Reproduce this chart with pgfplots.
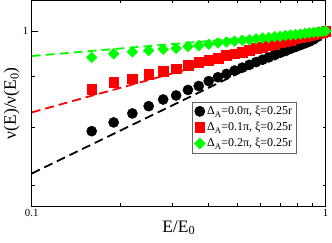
\documentclass[border=0pt]{standalone}
\usepackage{fontspec}
\setmainfont{Liberation Serif}
\usepackage{pgfplots}
\pgfplotsset{compat=1.18}
\definecolor{myred}{RGB}{255,0,0}
\definecolor{mygreen}{RGB}{0,255,0}
\newcommand{\sA}{\raisebox{-0.55ex}{\fontsize{8.8}{9}\selectfont A}}
\begin{document}
\begin{tikzpicture}
\begin{loglogaxis}[
  scale only axis, width=294pt, height=205.5pt,
  xmin=0.1, xmax=1, ymin=0.668, ymax=1.073,
  xtick={0.1,1}, xticklabels={0.1,1},
  minor xtick={0.2,0.3,0.4,0.5,0.6,0.7,0.8,0.9},
  ytick={1}, yticklabels={1},
  minor ytick={0.7,0.8,0.9},
  tick align=inside, major tick length=6pt, minor tick length=3pt,
  every tick/.style={black, line width=0.8pt},
  axis line style={line width=1pt},
  ticklabel style={font=\fontsize{10.8}{12}\selectfont},
  xlabel={E/E\textsubscript{0}}, ylabel={ν(E)/ν(E\textsubscript{0})},
  label style={font=\fontsize{17.5}{20}\selectfont},
  xlabel style={at={(axis description cs:0.5,-0.107)}, anchor=center},
  ylabel style={at={(axis description cs:-0.068,0.5)}, anchor=center},
  clip=false,
  legend style={at={(0.544,0.508)}, anchor=north west, font=\fontsize{12}{13}\selectfont,
    draw=black!60, line width=0.6pt, inner xsep=2.5pt, inner ysep=2.5pt, row sep=2.2pt},
  legend cell align=left,
]
\addplot[only marks, mark=*, mark size=5.1pt, black] coordinates {
(0.16,0.794) (0.19,0.810) (0.22,0.827) (0.25,0.841) (0.28,0.854) (0.31,0.862)
(0.34,0.873) (0.37,0.881) (0.40,0.891) (0.43,0.899) (0.46,0.906) (0.49,0.913)
(0.52,0.919) (0.55,0.925) (0.58,0.931) (0.61,0.936) (0.64,0.941) (0.67,0.946)
(0.70,0.951) (0.73,0.955) (0.76,0.960) (0.79,0.964) (0.82,0.968) (0.85,0.972)
(0.88,0.976) (0.91,0.981) (0.94,0.987) (0.97,0.994) (1.00,1.000)};
\addlegendentry{Δ\sA=0.0π, ξ=0.25r}
\addplot[only marks, mark=square*, mark size=4.9pt, myred] coordinates {
(0.16,0.874) (0.19,0.888) (0.22,0.896) (0.25,0.905) (0.28,0.912) (0.31,0.917)
(0.34,0.925) (0.37,0.930) (0.40,0.935) (0.43,0.940) (0.46,0.945) (0.49,0.949)
(0.52,0.953) (0.55,0.957) (0.58,0.961) (0.61,0.964) (0.64,0.968) (0.67,0.971)
(0.70,0.974) (0.73,0.977) (0.76,0.980) (0.79,0.983) (0.82,0.986) (0.85,0.988)
(0.88,0.991) (0.91,0.993) (0.94,0.995) (0.97,0.998) (1.00,1.000)};
\addlegendentry{Δ\sA=0.1π, ξ=0.25r}
\addplot[only marks, mark=square*, mark size=3.8pt, mark options={rotate=45}, mygreen] coordinates {
(0.16,0.941) (0.19,0.949) (0.22,0.953) (0.25,0.956) (0.28,0.959) (0.31,0.961)
(0.34,0.965) (0.37,0.967) (0.40,0.970) (0.43,0.973) (0.46,0.975) (0.49,0.977)
(0.52,0.979) (0.55,0.980) (0.58,0.982) (0.61,0.984) (0.64,0.985) (0.67,0.987)
(0.70,0.988) (0.73,0.990) (0.76,0.991) (0.79,0.992) (0.82,0.993) (0.85,0.995)
(0.88,0.996) (0.91,0.997) (0.94,0.998) (0.97,0.999) (1.00,1.000)};
\addlegendentry{Δ\sA=0.2π, ξ=0.25r}
\addplot[forget plot, black, line width=1.8pt, dash pattern=on 9pt off 5pt] coordinates {(0.1,0.720) (1,1)};
\addplot[forget plot, myred, line width=1.8pt, dash pattern=on 9pt off 5pt] coordinates {(0.1,0.829) (1,1)};
\addplot[forget plot, mygreen, line width=1.8pt, dash pattern=on 9pt off 5pt] coordinates {(0.1,0.944) (1,1)};
\end{loglogaxis}
\pgfresetboundingbox
\path ([xshift=-31.7pt,yshift=-36pt]current axis.south west) rectangle ++(332pt,242pt);
\end{tikzpicture}
\end{document}
